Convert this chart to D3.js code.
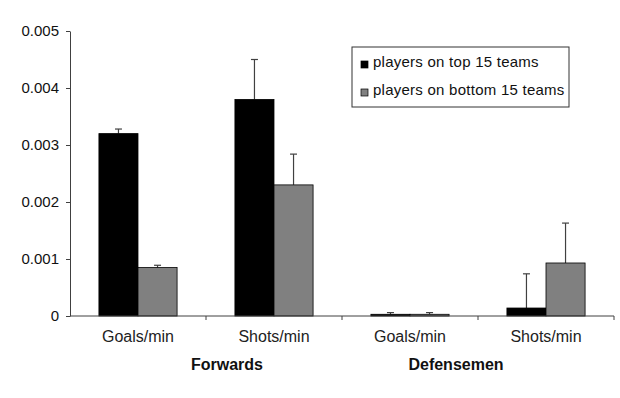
<!DOCTYPE html>
<html>
<head>
<meta charset="utf-8">
<script src="https://cdn.jsdelivr.net/npm/d3@7"></script>
<style>
  body { margin: 0; background: #fff; }
  svg { display: block; font-family: Arial, "Liberation Sans", sans-serif; }
</style>
</head>
<body>
<div id="chart"></div>
<script>
// Chart data
const categories = ['Goals/min F', 'Shots/min F', 'Goals/min D', 'Shots/min D'];
const categoryLabels = ['Goals/min', 'Shots/min', 'Goals/min', 'Shots/min'];
const seriesNames = ['players on top 15 teams', 'players on bottom 15 teams'];
const topValues = [0.0032, 0.0038, 0.00003, 0.00014];
const topErrors = [0.00008, 0.0007, 0.00003, 0.0006];
const bottomValues = [0.00085, 0.0023, 0.00003, 0.00093];
const bottomErrors = [0.00004, 0.00054, 0.00003, 0.0007];
const yTicks = [0, 0.001, 0.002, 0.003, 0.004, 0.005];
const groupLabels = ['Forwards', 'Defensemen'];

const colors = ['#000000', '#808080'];
const width = 620, height = 398;
const margin = { top: 31, right: 6, bottom: 82, left: 70 };
const plotW = width - margin.left - margin.right;
const plotH = height - margin.top - margin.bottom;

const svg = d3.select('#chart').append('svg')
    .attr('width', width)
    .attr('height', height);

const g = svg.append('g')
    .attr('transform', `translate(${margin.left},${margin.top})`);

// Scales
const x = d3.scaleBand().domain(categories).range([0, plotW]).paddingInner(0).paddingOuter(0);
const inner = d3.scaleBand().domain([0, 1]).range([0, x.bandwidth()]).paddingInner(0).paddingOuter(0.74);
const y = d3.scaleLinear().domain([0, 0.005]).range([plotH, 0]);

// Build rows
const rows = categories.map((c, i) => [
    { cat: c, s: 0, v: topValues[i], e: topErrors[i] },
    { cat: c, s: 1, v: bottomValues[i], e: bottomErrors[i] }
]).flat();

const cx = d => x(d.cat) + inner(d.s) + inner.bandwidth() / 2;

// Error bars (drawn before bars so the bar covers the lower part)
const eb = g.append('g').selectAll('g').data(rows).enter().append('g')
    .attr('stroke', '#404040')
    .attr('stroke-width', 1.2);
eb.append('line')
    .attr('x1', cx)
    .attr('x2', cx)
    .attr('y1', d => y(d.v))
    .attr('y2', d => y(d.v + d.e));
eb.append('line')
    .attr('x1', d => cx(d) - 3.5)
    .attr('x2', d => cx(d) + 3.5)
    .attr('y1', d => y(d.v + d.e))
    .attr('y2', d => y(d.v + d.e));

// Bars
g.append('g').selectAll('rect').data(rows).enter().append('rect')
    .attr('x', d => x(d.cat) + inner(d.s))
    .attr('y', d => y(d.v))
    .attr('width', inner.bandwidth())
    .attr('height', d => plotH - y(d.v))
    .attr('fill', d => colors[d.s])
    .attr('stroke', '#000')
    .attr('stroke-width', 0.8);

// Y axis
const yAxis = g.append('g')
    .call(d3.axisLeft(y).tickValues(yTicks).tickFormat(d => d === 0 ? '0' : d3.format('.3f')(d)).tickSize(4).tickSizeOuter(0));
yAxis.select('.domain').attr('stroke', '#404040');
yAxis.selectAll('.tick line').attr('stroke', '#404040');
yAxis.selectAll('.tick text')
    .attr('x', -11)
    .style('font-size', '15px')
    .attr('fill', '#111');

// X axis with ticks at category boundaries
const xg = g.append('g').attr('transform', `translate(0,${plotH})`);
xg.append('line')
    .attr('x1', 0).attr('x2', plotW)
    .attr('stroke', '#404040');
xg.selectAll('.bt').data(categories).enter().append('line')
    .attr('x1', d => x(d) + x.bandwidth()).attr('x2', d => x(d) + x.bandwidth())
    .attr('y1', 0).attr('y2', 4)
    .attr('stroke', '#404040');
xg.selectAll('.lbl').data(categories).enter().append('text')
    .attr('x', d => x(d) + x.bandwidth() / 2)
    .attr('y', 26)
    .attr('text-anchor', 'middle')
    .style('font-size', '16px')
    .attr('fill', '#222')
    .text((d, i) => categoryLabels[i]);

// Group labels
const groupCenters = [x(categories[1]) + 21, x(categories[3]) - 22];
xg.selectAll('.grp').data(groupLabels).enter().append('text')
    .attr('x', (d, i) => groupCenters[i])
    .attr('y', 54)
    .attr('text-anchor', 'middle')
    .style('font-size', '16px')
    .style('font-weight', 'bold')
    .attr('fill', '#111')
    .text(d => d);

// Legend
const legend = svg.append('g').attr('transform', 'translate(352,47)');
legend.append('rect')
    .attr('width', 217).attr('height', 60)
    .attr('fill', '#fff')
    .attr('stroke', '#333')
    .attr('stroke-width', 1);
seriesNames.forEach((name, i) => {
    const row = legend.append('g').attr('transform', `translate(9,${17 + i * 28})`);
    row.append('rect')
        .attr('x', 0).attr('y', -3)
        .attr('width', 7).attr('height', 7)
        .attr('fill', colors[i])
        .attr('stroke', '#000')
        .attr('stroke-width', 0.7);
    row.append('text')
        .attr('x', 12)
        .attr('y', 3)
        .style('font-size', '15px')
        .style('letter-spacing', '0.25px')
        .attr('fill', '#111')
        .text(name);
});
</script>
</body>
</html>
